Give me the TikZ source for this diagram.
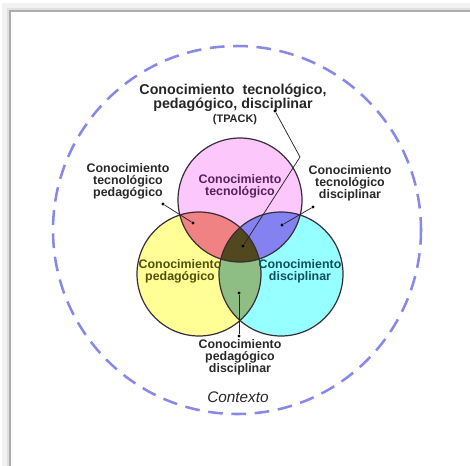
\documentclass[tikz,border=0pt]{standalone}
\usepackage{fontspec}
\setmainfont{Liberation Sans}
\usetikzlibrary{calc, positioning}

\definecolor{tecFill}{RGB}{252,200,252}
\definecolor{pedFill}{RGB}{255,255,150}
\definecolor{disFill}{RGB}{150,255,255}
\definecolor{tpFill}{RGB}{240,130,132}
\definecolor{tdFill}{RGB}{132,130,240}
\definecolor{pdFill}{RGB}{142,190,132}
\definecolor{allFill}{RGB}{82,72,32}
\definecolor{ringBlue}{RGB}{136,136,232}
\definecolor{edgeDark}{RGB}{55,45,55}
\definecolor{txtGray}{RGB}{40,40,40}
\definecolor{tecTxt}{RGB}{85,35,90}
\definecolor{pedTxt}{RGB}{80,80,10}
\definecolor{disTxt}{RGB}{15,80,90}

\begin{document}
\begin{tikzpicture}[x=0.75pt, y=-0.75pt,
  circ/.style={draw=edgeDark, line width=0.9pt},
  lbl/.style={font=\bfseries\fontsize{9.3}{9}\selectfont, align=center, text=txtGray, inner sep=0pt},
  lead/.style={draw=black!85, line width=0.55pt},
  dot/.style={circle, fill=black, inner sep=0pt, minimum size=2.3pt}
]
\def\rad{62}

\useasboundingbox (0,0) rectangle (470,465);

% frame with a soft shadow
\draw[line width=4pt, black!5] (5,6) rectangle (490,490);
\draw[line width=2pt, black!12] (8,9) rectangle (490,490);
\draw[line width=1.1pt, black!32] (10,11) rectangle (490,490);

\coordinate (T) at (240,200);
\coordinate (P) at (199,274);
\coordinate (D) at (281,274);

% context ring
\draw[ringBlue, line width=1.9pt, dash pattern=on 11pt off 6.5pt] (237,230) circle[radius=184];

% circles and their overlaps
\fill[tecFill] (T) circle[radius=\rad];
\fill[pedFill] (P) circle[radius=\rad];
\fill[disFill] (D) circle[radius=\rad];
\begin{scope}
  \clip (T) circle[radius=\rad];
  \fill[tpFill] (P) circle[radius=\rad];
  \fill[tdFill] (D) circle[radius=\rad];
\end{scope}
\begin{scope}
  \clip (P) circle[radius=\rad];
  \fill[pdFill] (D) circle[radius=\rad];
  \clip (T) circle[radius=\rad];
  \fill[allFill] (D) circle[radius=\rad];
\end{scope}
\draw[circ] (T) circle[radius=\rad];
\draw[circ] (P) circle[radius=\rad];
\draw[circ] (D) circle[radius=\rad];

% labels
\node[lbl, text=black!85, font=\bfseries\fontsize{10.7}{10.5}\selectfont] (tpack) at (233,98)
  {Conocimiento\ \ tecnológico,\\pedagógico, disciplinar};
\node[lbl, text=black!85, font=\bfseries\fontsize{8.2}{9}\selectfont] (tpackAbbr) at (235,120) {(TPACK)};
\node[lbl, text=tecTxt] (tec) at (240,186) {Conocimiento\\tecnológico};
\node[lbl, text=pedTxt] (ped) at (180,271) {Conocimiento\\pedagógico};
\node[lbl, text=disTxt] (dis) at (300,271) {Conocimiento\\disciplinar};
\node[lbl] (tp) at (128,181) {Conocimiento\\tecnológico\\pedagógico};
\node[lbl] (td) at (350,183) {Conocimiento\\tecnológico\\disciplinar};
\node[lbl] (pd) at (240,357) {Conocimiento\\pedagógico\\disciplinar};
\node[font=\itshape\fontsize{11.5}{12}\selectfont, text=black!85] (ctx) at (238,397) {Contexto};

% leader lines
\node[dot] (tpackTop) at (275,111) {};
\coordinate (tpackBend) at (300,157);
\node[dot] (tpackIn) at (243,246) {};
\draw[lead] (tpackTop) -- (tpackBend) -- (tpackIn);

\node[dot] (tpOut) at (163,204) {};
\node[dot] (tpIn) at (193,223) {};
\draw[lead] (tpOut) -- (tpIn);

\node[dot] (tdOut) at (313,207) {};
\node[dot] (tdIn) at (282,225) {};
\draw[lead] (tdOut) -- (tdIn);

\node[dot] (pdIn) at (239,293) {};
\node[dot] (pdOut) at (239,336) {};
\draw[lead] (pdIn) -- (pdOut);
\end{tikzpicture}
\end{document}
